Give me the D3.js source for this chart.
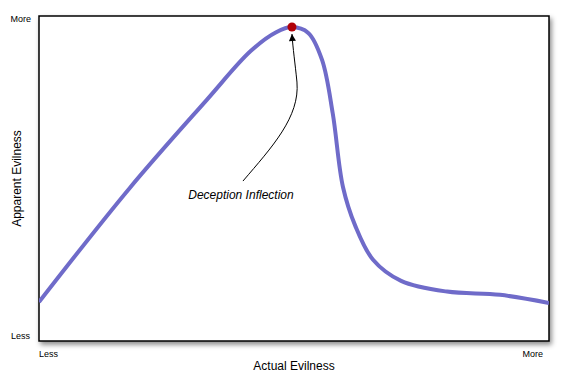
<!DOCTYPE html>
<html><head><meta charset="utf-8">
<script src="https://d3js.org/d3.v7.min.js"></script>
<style>body{margin:0;background:#fff}</style>
</head><body>
<script>
const xVals = [0, 17.8, 32.9, 41.5, 46.5, 49.6, 52.8, 55.5, 57.6, 59.6, 62, 65.5, 71, 80, 90.4, 100];
const yVals = [12, 47.1, 74.2, 89.2, 95, 96.6, 94.8, 86.5, 70, 47.4, 35.5, 25, 18.5, 15.2, 14.2, 11.7];
const peak = {x: 49.6, y: 96.6};
const tickLabels = ["Less", "More"];
const xTitle = "Actual Evilness";
const yTitle = "Apparent Evilness";
const annotation = "Deception Inflection";

const W = 569, H = 382;
const m = {l: 39, t: 16, r: 20, b: 41};
const svg = d3.select("body").append("svg").attr("width", W).attr("height", H)
  .style("font-family", "'Liberation Sans', Arial, sans-serif");
const defs = svg.append("defs");
const f = defs.append("filter").attr("id", "sh").attr("x", "-10%").attr("y", "-10%").attr("width", "130%").attr("height", "130%");
f.append("feDropShadow").attr("dx", 2).attr("dy", 3).attr("stdDeviation", 2.5).attr("flood-color", "#000").attr("flood-opacity", 0.45);
defs.append("marker").attr("id", "ah").attr("viewBox", "0 0 10 10").attr("refX", 10).attr("refY", 5)
  .attr("markerWidth", 9).attr("markerHeight", 7).attr("markerUnits", "userSpaceOnUse").attr("orient", "auto")
  .append("path").attr("d", "M0,0 L10,5 L0,10 Z").attr("fill", "#000");

const x = d3.scaleLinear().domain([0, 100]).range([m.l, W - m.r]);
const y = d3.scaleLinear().domain([0, 100]).range([H - m.b, m.t]);

svg.append("rect").attr("x", x(0)).attr("y", y(100)).attr("width", x(100) - x(0)).attr("height", y(0) - y(100))
  .attr("fill", "#fff").attr("stroke", "#000").attr("stroke-width", 1.5).attr("filter", "url(#sh)");

const data = xVals.map((v, i) => ({x: v, y: yVals[i]}));
defs.append("clipPath").attr("id", "cp").append("rect")
  .attr("x", x(0)).attr("y", y(100)).attr("width", x(100) - x(0)).attr("height", y(0) - y(100));
svg.append("path").datum(data).attr("clip-path", "url(#cp)")
  .attr("d", d3.line().x(d => x(d.x)).y(d => y(d.y)).curve(d3.curveCatmullRom.alpha(0.5)))
  .attr("fill", "none").attr("stroke", "#6f6bc9").attr("stroke-width", 4).attr("stroke-linejoin", "round");

// annotation arrow
const px = x(peak.x), py = y(peak.y);
svg.append("path")
  .attr("d", `M${px - 49},${py + 154} C${px - 20},${py + 120} ${px + 8},${py + 90} ${px + 5},${py + 55} C${px + 3},${py + 35} ${px + 1},${py + 22} ${px},${py + 7}`)
  .attr("fill", "none").attr("stroke", "#000").attr("stroke-width", 1).attr("marker-end", "url(#ah)");

svg.append("circle").attr("cx", px).attr("cy", py).attr("r", 4.5).attr("fill", "#b00008");

svg.append("text").attr("x", px - 51).attr("y", py + 172).attr("text-anchor", "middle")
  .attr("font-size", 12).attr("font-style", "italic").text(annotation);

// tick labels
svg.append("text").attr("x", m.l - 8).attr("y", y(100) + 6).attr("text-anchor", "end").attr("font-size", 9).text(tickLabels[1]);
svg.append("text").attr("x", m.l - 9).attr("y", y(0) - 2).attr("text-anchor", "end").attr("font-size", 9).text(tickLabels[0]);
svg.append("text").attr("x", x(0)).attr("y", y(0) + 16).attr("text-anchor", "start").attr("font-size", 9).text(tickLabels[0]);
svg.append("text").attr("x", x(100) - 6).attr("y", y(0) + 16).attr("text-anchor", "end").attr("font-size", 9).text(tickLabels[1]);

svg.append("text").attr("x", (x(0) + x(100)) / 2).attr("y", y(0) + 29).attr("text-anchor", "middle").attr("font-size", 12).text(xTitle);
svg.append("text").attr("transform", `translate(21,${(y(0) + y(100)) / 2}) rotate(-90)`).attr("text-anchor", "middle").attr("font-size", 12).text(yTitle);
</script>
</body></html>
